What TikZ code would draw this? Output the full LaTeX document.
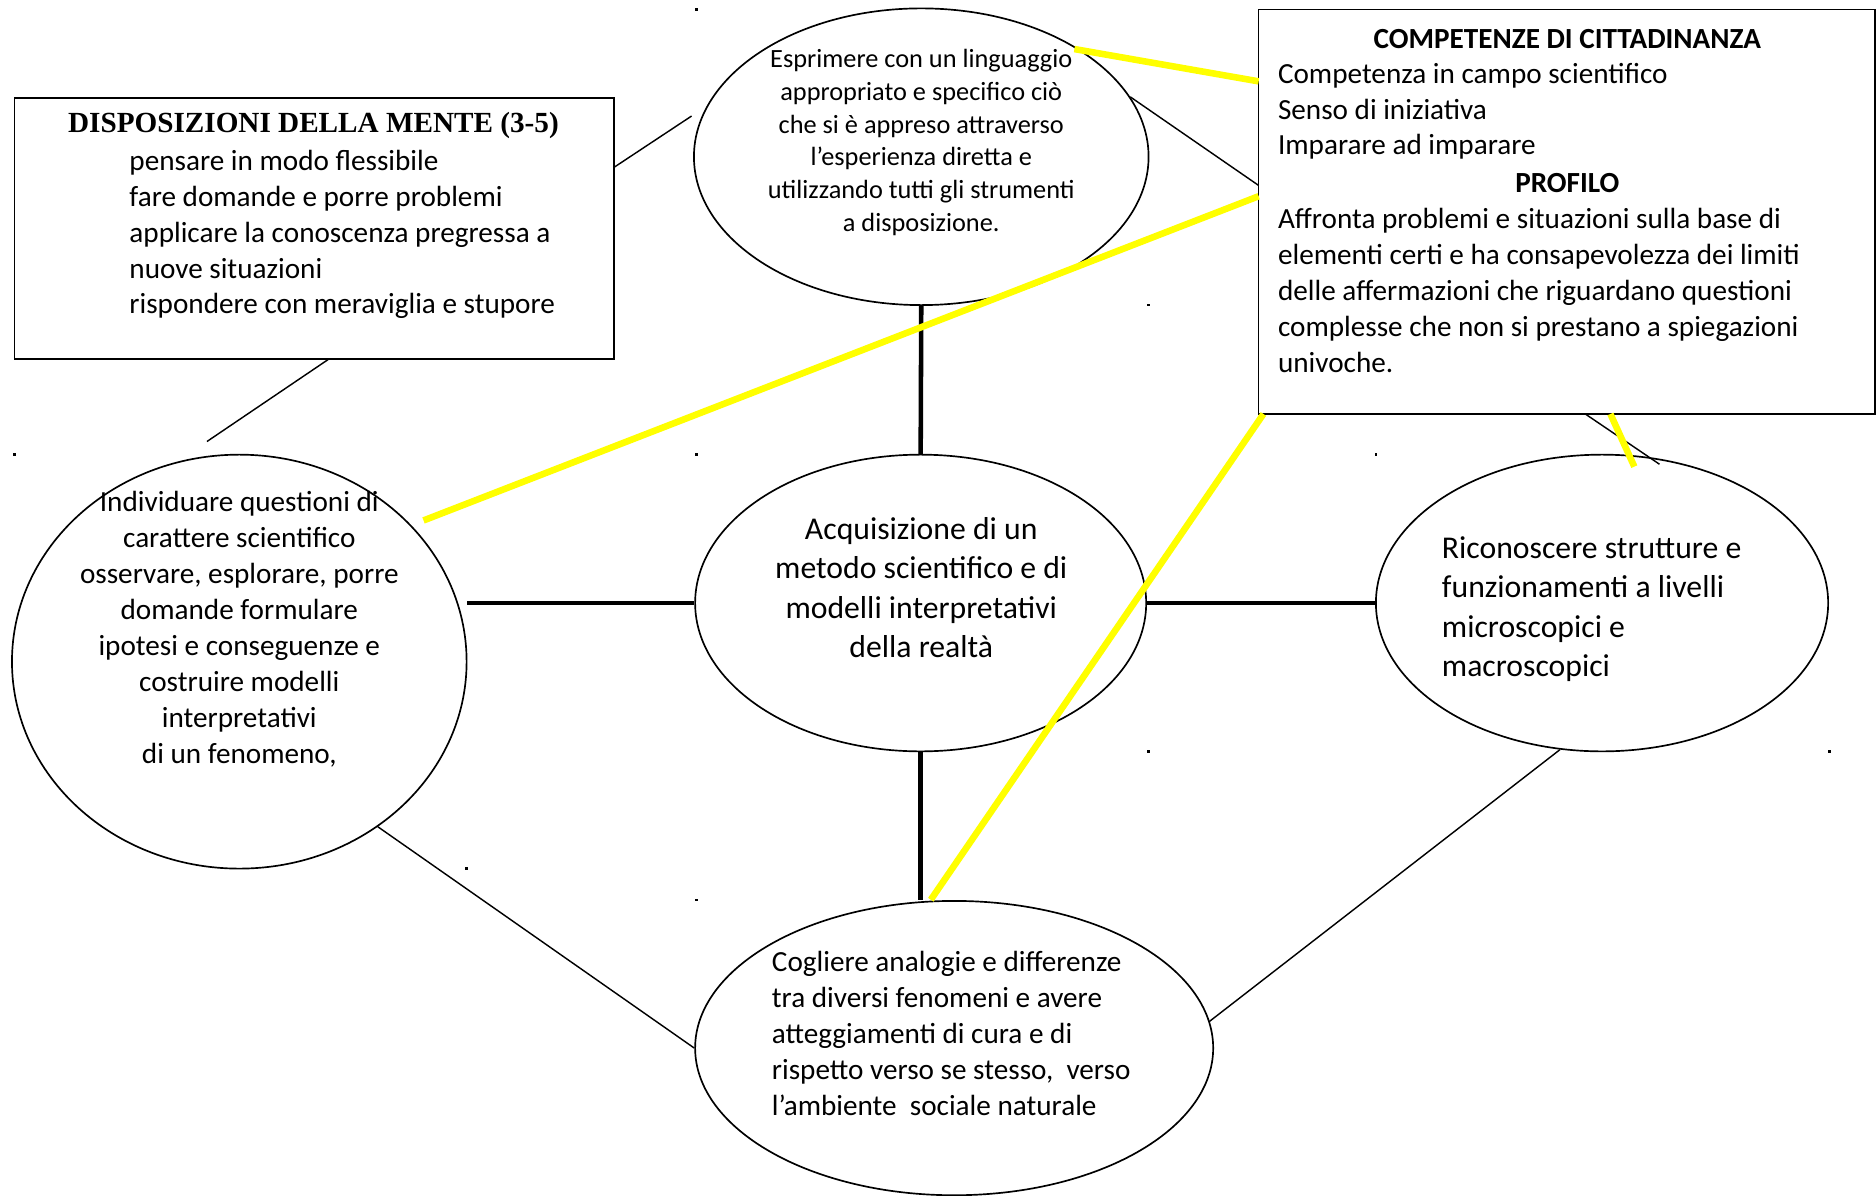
\documentclass[tikz,border=0pt]{standalone}
\usepackage{fontspec}
\setmainfont{Carlito}
\newfontfamily\timesfont{Liberation Serif}
\usetikzlibrary{shapes.geometric}
\definecolor{yel}{RGB}{255,255,0}
\tikzset{
  ell/.style={ellipse, draw, line width=1.4pt, fill=white, inner sep=0pt},
  boxx/.style={rectangle, draw, line width=1.4pt, fill=white, inner sep=0pt},
  conn/.style={line width=1.2pt},
  strong/.style={line width=3.8pt},
  hl/.style={draw=yel, line width=5.5pt},
  txt/.style={inner sep=0pt, font=\fontsize{24.4}{30}\selectfont},
  txtsm/.style={inner sep=0pt, font=\fontsize{22}{27.3}\selectfont},
  txtlg/.style={inner sep=0pt, font=\fontsize{26.5}{33}\selectfont},
  dotmark/.style={fill=black}
}
\begin{document}
\begin{tikzpicture}[x=1pt,y=-1pt]
\useasboundingbox (0,0) rectangle (1568,999);
\fill[white] (0,0) rectangle (1568,999);

% boxes and ellipses
\node[boxx, minimum width=501pt, minimum height=218pt] (disp) at (262.5,191) {};
\node[boxx, minimum width=515pt, minimum height=338pt] (comp) at (1309.5,177) {};
\node[ell, minimum width=380pt, minimum height=248pt] (esp) at (770,131) {};
\node[ell, minimum width=380pt, minimum height=346pt] (lft) at (200,553) {};
\node[ell, minimum width=377pt, minimum height=248pt] (ctr) at (769.5,504) {};
\node[ell, minimum width=378pt, minimum height=248pt] (rgt) at (1339,504) {};
\node[ell, minimum width=433pt, minimum height=246pt] (bot) at (797.5,876) {};

% free ends
\coordinate (d1) at (513,140);
\coordinate (d2) at (578,97);
\coordinate (d3) at (275,300);
\coordinate (d4) at (173,369);
\coordinate (k1) at (1052,155);
\coordinate (k2) at (1325,346);
\coordinate (k3) at (1387,388);
\coordinate (y1a) at (898,41);
\coordinate (y1b) at (1052,68);
\coordinate (y2a) at (1052,164);
\coordinate (y2b) at (354,435);
\coordinate (y3a) at (1056,346);
\coordinate (y3b) at (778,752);
\coordinate (y4a) at (1346,346);
\coordinate (y4b) at (1366,390);

% thick connectors
\draw[strong] (esp.south) -- (ctr.north);
\draw[strong] (ctr.west -| lft.east) -- (ctr.west);
\draw[strong] (ctr.east) -- (rgt.west);
\draw[strong] (ctr.south) -- (ctr.south |- bot.north);

% thin connectors
\draw[conn] (d1) -- (d2);
\draw[conn] (d3) -- (d4);
\draw[conn] (esp.16) -- (k1);
\draw[conn] (k2) -- (k3);
\draw[conn] (lft.-50) -- (bot.west);
\draw[conn] (rgt.-106) -- (bot.6);

% yellow connectors
\draw[hl] (y1a) -- (y1b);
\draw[hl] (y2a) -- (y2b);
\draw[hl] (y3a) -- (y3b);
\draw[hl] (y4a) -- (y4b);

% texts
\node[inner sep=0pt, font=\timesfont\bfseries\fontsize{24.4}{30}\selectfont] (dispT) at (262,105) {DISPOSIZIONI DELLA MENTE (3-5)};
\node[txt, anchor=west, align=left] (dispL) at (108,196) {pensare in modo flessibile\\fare domande e porre problemi\\applicare la conoscenza pregressa a\\nuove situazioni\\rispondere con meraviglia e stupore};

\node[txt, font=\bfseries\fontsize{24.4}{30}\selectfont] (compT) at (1310,33) {COMPETENZE DI CITTADINANZA};
\node[txt, anchor=west, align=left] (compL) at (1068,93) {Competenza in campo scientifico\\Senso di iniziativa\\Imparare ad imparare};
\node[txt, font=\bfseries\fontsize{24.4}{30}\selectfont] (profT) at (1310,153) {PROFILO};
\node[txt, anchor=west, align=left] (profL) at (1068,243) {Affronta problemi e situazioni sulla base di\\elementi certi e ha consapevolezza dei limiti\\delle affermazioni che riguardano questioni\\complesse che non si prestano a spiegazioni\\univoche.};

\node[txtsm, align=center] (espT) at (770,119) {Esprimere con un linguaggio\\appropriato e specifico ciò\\che si è appreso attraverso\\l’esperienza diretta e\\utilizzando tutti gli strumenti\\a disposizione.};

\node[txt, align=center] (lftT) at (200,526) {Individuare questioni di\\carattere scientifico\\osservare, esplorare, porre\\domande formulare\\ipotesi e conseguenze e\\costruire modelli\\interpretativi\\di un fenomeno,};

\node[txtlg, align=center] (ctrT) at (770,491) {Acquisizione di un\\metodo scientifico e di\\modelli interpretativi\\della realtà};

\node[txtlg, anchor=west, align=left] (rgtT) at (1205,509) {Riconoscere strutture e\\funzionamenti a livelli\\microscopici e\\macroscopici};

\node[txt, anchor=west, align=left] (botT) at (645,864) {Cogliere analogie e differenze\\tra diversi fenomeni e avere\\atteggiamenti di cura e di\\rispetto verso se stesso,~ verso\\l’ambiente~ sociale naturale};

% stray marks
\foreach \p in {(582,8),(960,255),(12,380),(582,380),(1150,380),(960,628),(1529,628),(390,726),(582,752)}
  \fill[dotmark] \p ++(-1,-1) rectangle ++(2,2);
\end{tikzpicture}
\end{document}
